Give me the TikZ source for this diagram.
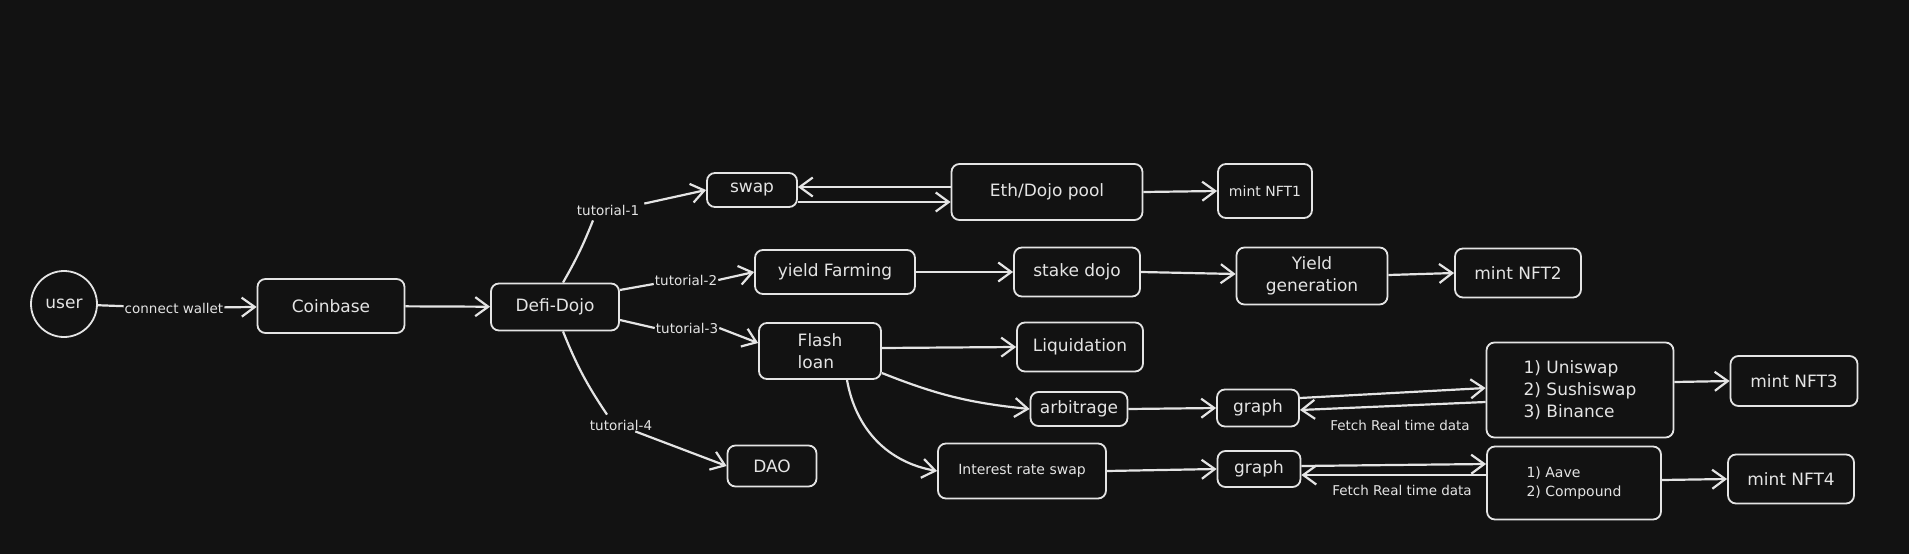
\documentclass[tikz,border=0pt]{standalone}
\usepackage{fontspec}
\setmainfont{DejaVu Sans}
\usetikzlibrary{arrows.meta}
\definecolor{bg}{RGB}{18,18,18}
\definecolor{ink}{RGB}{228,228,228}

\begin{document}
\begin{tikzpicture}[x=1pt,y=-1pt,
box/.style={draw=ink,line width=1.8pt,rounded corners=8pt,text=ink,inner sep=2pt,align=center,
    font=\fontsize{17}{22}\selectfont},
small/.style={font=\fontsize{14}{19}\selectfont},
tag/.style={text=ink,inner sep=1pt,font=\fontsize{13.5}{16}\selectfont},
wire/.style={draw=ink,line width=2.2pt},
link/.style={wire,-{Straight Barb[length=13pt,width=19pt,line width=2.2pt]}}]
\fill[bg] (0,0) rectangle (1909,554);
\useasboundingbox (0,0) rectangle (1909,554);

\node (usr) [circle,draw=ink,line width=1.8pt,minimum size=66pt,text=ink,
    font=\fontsize{17}{22}\selectfont] at (64,304) {user};
\node (cbase) [box,minimum width=147pt,minimum height=54pt] at (331,306) {Coinbase};
\node (dojo) [box,minimum width=128pt,minimum height=47pt] at (555,307) {Defi-Dojo};
\node (wallet) [tag] at (174,308) {connect wallet};
\node (tut1) [tag] at (608,210) {tutorial-1};
\node (tut2) [tag] at (686,280) {tutorial-2};
\node (tut3) [tag] at (687,328) {tutorial-3};
\node (tut4) [tag] at (621,425) {tutorial-4};

\node (swp) [box,minimum width=90pt,minimum height=34pt] at (752,190) {swap};
\node (pool) [box,minimum width=191pt,minimum height=56pt] at (1047,192) {Eth/Dojo pool};
\node (nft1) [box,small,minimum width=94pt,minimum height=54pt] at (1265,191) {mint NFT1};

\node (farm) [box,minimum width=160pt,minimum height=44pt] at (835,272) {yield Farming};
\node (stake) [box,minimum width=126pt,minimum height=49pt] at (1077,272) {stake dojo};
\node (yieldgen) [box,minimum width=151pt,minimum height=57pt] at (1312,276) {Yield\\generation};
\node (nft2) [box,minimum width=126pt,minimum height=49pt] at (1518,273) {mint NFT2};

\node (flash) [box,align=left,minimum width=122pt,minimum height=56pt] at (820,351) {Flash\\loan};
\node (liq) [box,minimum width=126pt,minimum height=49pt] at (1080,347) {Liquidation};
\node (arb) [box,minimum width=97pt,minimum height=34pt] at (1079,409) {arbitrage};
\node (graph1) [box,minimum width=82pt,minimum height=37pt] at (1258,408) {graph};
\node (dexes) [box,align=left,minimum width=187pt,minimum height=95pt] at (1580,390)
    {1) Uniswap\\2) Sushiswap\\3) Binance};
\node (nft3) [box,minimum width=127pt,minimum height=50pt] at (1794,381) {mint NFT3};
\node (fetch1) [tag] at (1400,425) {Fetch Real time data};

\node (irs) [box,small,minimum width=168pt,minimum height=55pt] at (1022,471) {Interest rate swap};
\node (graph2) [box,minimum width=83pt,minimum height=36pt] at (1259,469) {graph};
\node (lend) [box,small,align=left,minimum width=174pt,minimum height=73pt] at (1574,483)
    {1) Aave\\2) Compound};
\node (nft4) [box,minimum width=126pt,minimum height=49pt] at (1791,479) {mint NFT4};
\node (fetch2) [tag] at (1402,490) {Fetch Real time data};

\node (dao) [box,minimum width=89pt,minimum height=41pt] at (772,466) {DAO};

\draw[wire] (usr) -- (wallet);
\draw[link] (wallet) -- (cbase);
\draw[link] (cbase) -- (dojo);

\draw[wire] ([xshift=8pt]dojo.north) to[bend right=4] ([xshift=-15pt,yshift=-4pt]tut1.south);
\draw[link] ([xshift=4pt]tut1.north east) -- (swp.west);
\draw[wire] ([yshift=17pt]dojo.east) -- ([yshift=-4pt]tut2.west);
\draw[link] (tut2.east) -- (farm.west);
\draw[wire] ([yshift=-13pt]dojo.east) -- (tut3.west);
\draw[link] (tut3.east) -- ([yshift=8pt]flash.west);
\draw[wire] ([xshift=8pt]dojo.south) to[bend right=6] ([xshift=-14pt,yshift=4pt]tut4.north);
\draw[link] ([xshift=-18pt]tut4.south east) -- (dao.west);

\draw[link] ([yshift=5pt]pool.west) -- ([yshift=3pt]swp.east);
\draw[link] ([yshift=-12pt]swp.east) -- ([yshift=-10pt]pool.west);
\draw[link] (pool.east) -- (nft1.west);

\draw[link] (farm.east) -- (stake.west);
\draw[link] (stake.east) -- ([yshift=2pt]yieldgen.west);
\draw[link] ([yshift=1pt]yieldgen.east) -- (nft2.west);

\draw[link] ([yshift=3pt]flash.east) -- (liq.west);
\draw[link] ([yshift=-22pt]flash.east) to[bend right=8] (arb.west);
\draw[link] ([xshift=27pt]flash.south) to[out=-80,in=170] (irs.west);
\draw[link] (arb.east) -- (graph1.west);
\draw[link] (irs.east) -- (graph2.west);

\draw[link] ([yshift=10pt]graph1.east) -- ([yshift=2pt]dexes.west);
\draw[link] ([yshift=-12pt]dexes.west) -- ([yshift=-2pt]graph1.east);
\draw[link] ([yshift=8pt]dexes.east) -- (nft3.west);

\draw[link] ([yshift=3pt]graph2.east) -- ([yshift=19pt]lend.west);
\draw[link] ([yshift=8pt]lend.west) -- ([yshift=-6pt]graph2.east);
\draw[link] ([yshift=3pt]lend.east) -- (nft4.west);
\end{tikzpicture}
\end{document}
